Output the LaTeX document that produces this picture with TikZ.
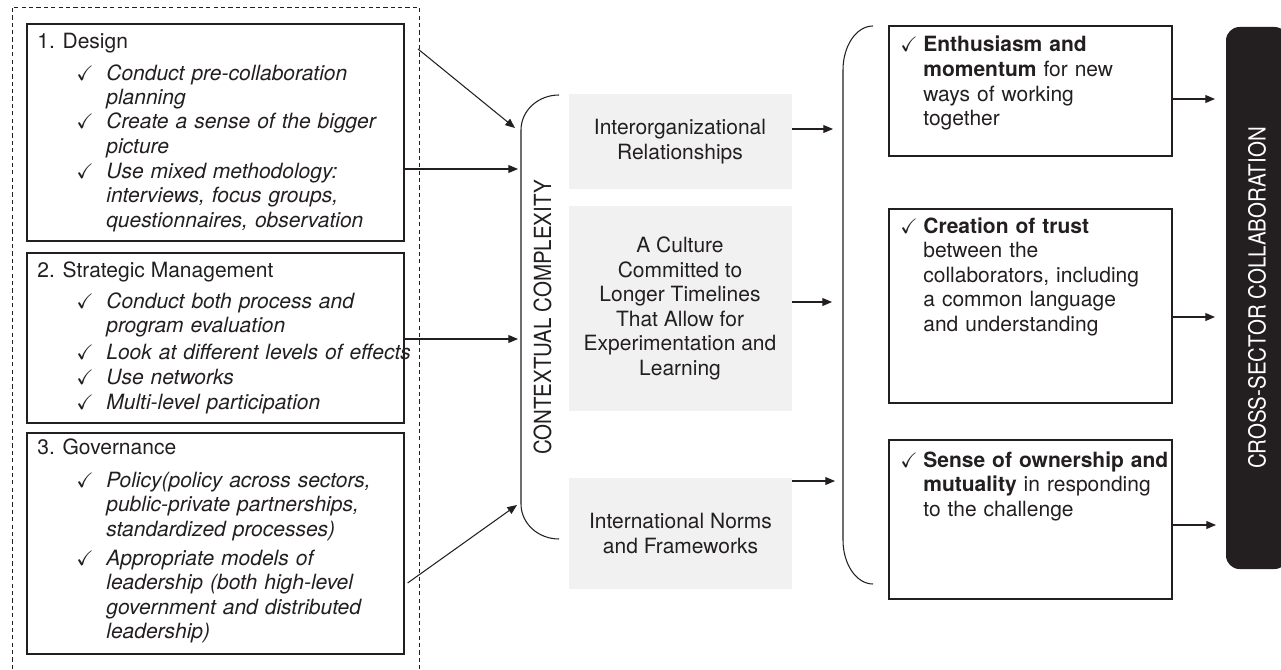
\documentclass[tikz,border=0pt]{standalone}
\usepackage{fontspec}
\usepackage{amssymb}
\setmainfont{TeX Gyre Heros}
\newfontfamily\narrowsf[FakeStretch=0.87]{TeX Gyre Heros}
\usetikzlibrary{arrows.meta}
\definecolor{ink}{HTML}{231F20}
\definecolor{panel}{HTML}{F1F1F1}
\newcommand{\bodysize}{\fontsize{11.95}{14}\selectfont}
\tikzset{
	boxline/.style={draw=ink, line width=0.7pt, inner sep=0pt},
	panelbox/.style={fill=panel, inner sep=0pt, minimum width=4.46cm, align=center},
	arr/.style={draw=ink, line width=0.6pt, -{Triangle[length=5.5pt,width=4.5pt]}},
	chk/.style={anchor=base west, inner sep=0pt},
	hd/.style={anchor=base west, inner sep=0pt},
	itm/.style={anchor=base west, inner sep=0pt, text width=7cm, align=left, font=\bodysize\itshape},
	txt/.style={anchor=base west, inner sep=0pt, text width=5.2cm, align=left},
}

\begin{document}
\begin{tikzpicture}[every node/.style={font=\bodysize, text=ink}]
		%%%%% START %%%%%
		\useasboundingbox (0,0) rectangle (25.62,13.38);
		
		\draw[ink, line width=0.5pt, dash pattern=on 2.4pt off 1.8pt] (0.24,0) |- (8.38,13.24) -- (8.38,0);
		
		\node[boxline, minimum width=7.54cm, minimum height=4.34cm] (design) at (4.31,10.73) {};
		\node[boxline, minimum width=7.54cm, minimum height=3.40cm] (strat) at (4.31,6.62) {};
		\node[boxline, minimum width=7.54cm, minimum height=4.42cm] (gov) at (4.31,2.51) {};
		
		\node[hd] (designhd) at (0.74,12.42) {1. Design};
		\node[chk] (dc1) at (1.52,11.78) {$\checkmark$};
		\node[itm] (di1) at (2.12,11.78) {Conduct pre-collaboration\\planning};
		\node[chk] (dc2) at (1.52,10.80) {$\checkmark$};
		\node[itm] (di2) at (2.12,10.80) {Create a sense of the bigger\\picture};
		\node[chk] (dc3) at (1.52,9.82) {$\checkmark$};
		\node[itm] (di3) at (2.12,9.82) {Use mixed methodology:\\interviews, focus groups,\\questionnaires, observation};
		
		\node[hd] (strathd) at (0.74,7.84) {2. Strategic Management};
		\node[chk] (sc1) at (1.52,7.22) {$\checkmark$};
		\node[itm] (si1) at (2.12,7.22) {Conduct both process and\\program evaluation};
		\node[chk] (sc2) at (1.52,6.20) {$\checkmark$};
		\node[itm] (si2) at (2.12,6.20) {Look at different levels of effects};
		\node[chk] (sc3) at (1.52,5.70) {$\checkmark$};
		\node[itm] (si3) at (2.12,5.70) {Use networks};
		\node[chk] (sc4) at (1.52,5.20) {$\checkmark$};
		\node[itm] (si4) at (2.12,5.20) {Multi-level participation};
		
		\node[hd] (govhd) at (0.74,4.30) {3. Governance};
		\node[chk] (gc1) at (1.52,3.64) {$\checkmark$};
		\node[itm] (gi1) at (2.12,3.64) {Policy(policy across sectors,\\public-private partnerships,\\standardized processes)};
		\node[chk] (gc2) at (1.52,2.08) {$\checkmark$};
		\node[itm] (gi2) at (2.12,2.08) {Appropriate models of\\leadership (both high-level\\government and distributed\\leadership)};
		
		\node[panelbox, minimum height=1.90cm] (inter) at (13.60,10.55) {Interorganizational\\Relationships};
		\node[panelbox, minimum height=4.10cm] (cult) at (13.60,7.21) {A Culture\\Committed to\\Longer Timelines\\That Allow for\\Experimentation and\\Learning};
		\node[panelbox, minimum height=2.22cm] (norms) at (13.61,2.71) {International Norms\\and Frameworks};
		
		\draw[ink, line width=0.6pt] (11.18,11.48) arc[start angle=90, end angle=180, x radius=0.76, y radius=0.70] -- (10.42,3.30) arc[start angle=180, end angle=270, x radius=0.76, y radius=0.70];
		\node[rotate=90, font=\narrowsf\fontsize{13.4}{16}\selectfont] (ctx) at (10.85,7.03) {CONTEXTUAL COMPLEXITY};
		
		\node[boxline, minimum width=5.66cm, minimum height=2.60cm] (enth) at (20.61,11.56) {};
		\node[boxline, minimum width=5.66cm, minimum height=3.88cm] (trust) at (20.61,7.26) {};
		\node[boxline, minimum width=5.66cm, minimum height=3.18cm] (own) at (20.61,2.99) {};
		
		\node[chk] (ec) at (18.00,12.34) {$\checkmark$};
		\node[txt] (et) at (18.46,12.34) {\textbf{Enthusiasm and}\\\textbf{momentum} for new\\ways of working\\together};
		\node[chk] (tc) at (18.00,8.72) {$\checkmark$};
		\node[txt] (tt) at (18.46,8.72) {\textbf{Creation of trust}\\between the\\collaborators, including\\a common language\\and understanding};
		\node[chk] (oc) at (18.00,4.04) {$\checkmark$};
		\node[txt] (ot) at (18.46,4.04) {\textbf{Sense of ownership and}\\\textbf{mutuality} in responding\\to the challenge};
		
		\draw[ink, line width=0.6pt] (17.46,12.86) arc[start angle=90, end angle=180, x radius=0.60, y radius=0.88] -- (16.86,2.58) arc[start angle=180, end angle=270, x radius=0.60, y radius=0.88];
		
		\node[fill=ink, rotate=90, rounded corners=0.27cm, minimum width=10.84cm, minimum height=1.24cm, inner sep=0pt, font=\narrowsf\fontsize{13.4}{16}\selectfont, text=white] (collab) at (25.14,7.42) {CROSS-SECTOR COLLABORATION};
		
		\coordinate (dtop) at (8.36,12.40);
		\coordinate (in1) at (10.30,10.82);
		\coordinate (in2) at (10.36,10.00);
		\coordinate (in3) at (10.36,6.60);
		\coordinate (in4) at (10.34,3.28);
		\coordinate (out1) at (16.66,10.80);
		\coordinate (out2) at (16.64,7.34);
		\coordinate (out3) at (16.70,3.76);
		\coordinate (c1) at (24.30,11.40);
		\coordinate (c2) at (24.30,7.04);
		\coordinate (c3) at (24.32,2.88);
		
		\draw[arr] (dtop) -- (in1);
		\draw[arr] (design.east |- in2) -- (in2);
		\draw[arr] (strat.east |- in3) -- (in3);
		\draw[arr] ([shift={(0.06,-0.79)}]gov.east) -- (in4);
		
		\draw[arr] (inter.east |- out1) -- (out1);
		\draw[arr] (cult.east |- out2) -- (out2);
		\draw[arr] (norms.east |- out3) -- (out3);
		
		\draw[arr] (enth.east |- c1) -- (c1);
		\draw[arr] (trust.east |- c2) -- (c2);
		\draw[arr] (own.east |- c3) -- (c3);
		
		%%%%% END %%%%%
\end{tikzpicture}
\end{document}
